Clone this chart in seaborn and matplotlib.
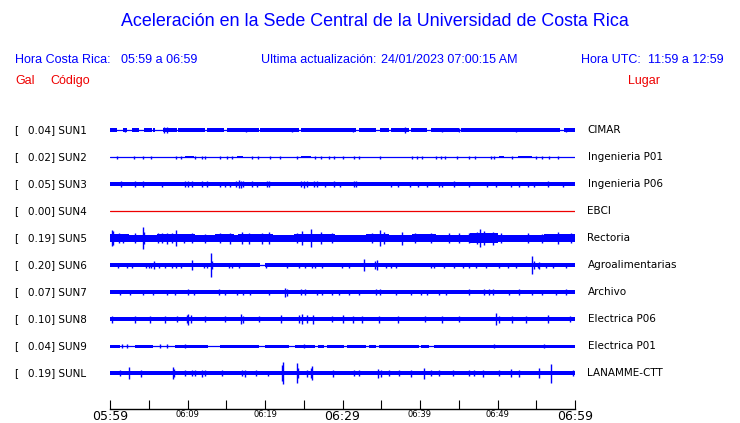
# ================================
# Aceleracion - Sede Central UCR (sismogramas)
# ================================

import numpy as np
import pandas as pd
import matplotlib
matplotlib.use("Agg")
import matplotlib.pyplot as plt
import seaborn as sns

# --------------------------------
# Data
# --------------------------------
codes = ["SUN1", "SUN2", "SUN3", "SUN4", "SUN5",
         "SUN6", "SUN7", "SUN8", "SUN9", "SUNL"]
pga_gal = [0.04, 0.02, 0.05, 0.00, 0.19, 0.20, 0.07, 0.10, 0.04, 0.19]
places = ["CIMAR", "Ingenieria P01", "Ingenieria P06", "EBCI", "Rectoria",
          "Agroalimentarias", "Archivo", "Electrica P06", "Electrica P01",
          "LANAMME-CTT"]

tick_minutes = [0, 5, 10, 15, 20, 25, 30, 35, 40, 45, 50, 55, 60]
tick_labels = ["05:59", "", "06:09", "", "06:19", "", "06:29",
               "", "06:39", "", "06:49", "", "06:59"]

# band segments: (start minute, end minute, half amplitude)
sun1_bands = [(0, 0.9, 1.7), (1.7, 2.2, 1.7), (2.8, 3.7, 1.7), (4.4, 5.4, 1.7),
              (5.5, 5.8, 1.7), (6.9, 8.6, 1.7), (8.8, 12.3, 1.7), (12.5, 14.7, 1.7),
              (15.1, 19.2, 1.7), (19.4, 24.4, 1.7), (24.6, 31.7, 1.7),
              (32.1, 34.3, 1.7), (34.9, 36.0, 1.7), (36.3, 38.6, 1.7),
              (38.8, 40.9, 1.7), (41.4, 45.0, 1.7), (45.3, 58.0, 1.7), (58.6, 60, 1.7)]
sun2_bands = [(9.7, 10.8, 1.3), (16.4, 17.2, 1.3), (24.6, 25.9, 1.3),
              (50.2, 50.9, 1.3), (52.6, 54.5, 1.3)]
sun3_bands = [(0, 60, 2.0)]
sun4_bands = []
sun5_bands = [(0, 60, 3.5), (0, 2.5, 4.2), (6, 11, 4.2), (13.5, 16, 4.0),
              (16.5, 21, 4.2), (23.8, 29, 4.2), (33, 36, 4.2), (39, 42, 3.9),
              (46.5, 50, 4.6), (56, 60, 4.0)]
sun6_bands = [(0, 19.4, 2.0), (20.0, 60, 2.0)]
sun7_bands = [(0, 60, 2.0)]
sun8_bands = [(0, 60, 2.4)]
sun9_bands = [(0, 1.3, 1.5), (3.2, 5.6, 1.5), (8.4, 12.7, 1.5), (14.2, 19.2, 1.5),
              (20.0, 23.1, 1.5), (23.9, 26.5, 1.5), (26.9, 27.6, 1.5),
              (28.0, 30.2, 1.5), (30.6, 33.0, 1.5), (33.4, 34.3, 1.5),
              (34.7, 39.9, 1.5), (40.1, 41.2, 1.5), (41.8, 60, 1.5)]
sunl_bands = [(0, 60, 2.2)]

# spikes: (minute, half amplitude)
sun1_spikes = [(1.9, 2.4), (7.0, 2.7), (7.3, 2.7), (17.5, 2.2), (23.5, 2.2),
               (31.3, 2.2), (38.1, 2.7), (42.9, 2.2), (45.0, 2.2), (52.4, 2.2),
               (58.8, 2.0)]
sun2_spikes = [(0.95, 1.5), (3.1, 1.5), (4.2, 1.5), (5.3, 1.5), (8.5, 1.5),
               (9.2, 1.5), (11.0, 1.5), (11.9, 1.5), (12.3, 1.5), (14.2, 1.5),
               (15.1, 1.5), (15.7, 1.5), (18.3, 1.5), (19.1, 1.5), (20.7, 1.5),
               (21.9, 1.5), (24.1, 1.5), (26.4, 1.5), (27.2, 1.5), (28.2, 1.5),
               (28.9, 1.5), (30.0, 1.5), (31.5, 1.5), (32.1, 1.5), (34.8, 1.5),
               (39.0, 1.5), (39.6, 1.5), (40.3, 1.5), (42.0, 1.5), (42.7, 1.5),
               (43.2, 1.5), (44.8, 1.5), (46.3, 1.5), (47.1, 1.5), (49.1, 1.5),
               (49.6, 1.5), (51.9, 1.5), (55.0, 1.5), (55.8, 1.5), (56.7, 1.5),
               (57.8, 1.5)]
sun3_spikes = [(1.4, 2.8), (3.2, 3.0), (4.2, 2.8), (6.7, 2.5), (9.7, 3.0),
               (10.1, 3.0), (10.6, 3.0), (11.9, 2.8), (12.5, 2.8), (14.2, 2.5),
               (14.8, 2.5), (15.5, 2.5), (16.2, 2.8), (16.6, 4.0), (16.9, 3.5),
               (17.2, 3.0), (18.3, 2.8), (19.0, 2.5), (20.3, 2.8), (20.5, 2.8),
               (24.6, 3.0), (25.0, 3.5), (25.4, 3.0), (26.3, 2.8), (26.7, 2.8),
               (27.8, 2.5), (28.9, 2.8), (29.7, 2.5), (31.5, 2.8), (31.7, 2.8),
               (36.2, 2.5), (37.1, 2.5), (38.7, 2.5), (39.7, 2.5), (40.9, 2.5),
               (42.5, 2.5), (42.9, 2.5), (44.4, 2.8), (46.3, 2.5), (48.7, 2.5),
               (49.8, 2.5), (51.7, 2.5), (52.8, 2.5), (53.9, 2.5), (54.7, 2.5),
               (56.5, 2.8), (58.4, 2.5)]
sun4_spikes = []
sun5_spikes = [(0.2, 8.0), (0.4, 7.0), (1.1, 5.0), (1.7, 4.5), (3.2, 5.0),
               (4.2, 11.0), (4.4, 6.0), (6.25, 5.0), (6.7, 5.0), (7.3, 5.5),
               (8.0, 5.0), (8.5, 8.0), (9.5, 4.5), (10.6, 5.0), (12.3, 4.5),
               (14.2, 5.0), (15.5, 5.5), (17.0, 6.0), (17.9, 5.5), (19.6, 5.5),
               (20.5, 6.0), (24.1, 5.0), (24.8, 7.0), (25.9, 9.0), (27.2, 6.0),
               (28.7, 5.0), (33.8, 5.0), (34.8, 8.0), (35.3, 6.0), (37.7, 6.5),
               (39.4, 5.0), (41.4, 5.0), (43.8, 5.0), (45.0, 5.0), (46.3, 5.0),
               (47.4, 6.0), (47.7, 9.0), (48.3, 7.0), (49.4, 6.5), (50.4, 5.0),
               (53.9, 5.0), (55.8, 4.5), (57.8, 6.0), (59.5, 5.0)]
sun6_spikes = [(13.0, 12.0), (54.4, 9.0), (32.8, 6.0), (34.4, 5.0), (34.2, 4.0),
               (10.6, 5.0), (5.7, 4.0), (1.0, 2.5), (2.2, 2.5), (2.9, 2.5),
               (4.6, 2.5), (5.0, 2.5), (5.3, 2.5), (6.3, 2.5), (7.1, 2.5),
               (8.0, 2.5), (8.5, 2.5), (9.2, 2.5), (12.1, 2.5), (12.5, 2.5),
               (13.1, 4.0), (15.3, 2.5), (15.7, 2.5), (16.6, 2.5), (20.1, 2.5),
               (22.8, 2.5), (24.4, 2.5), (25.2, 2.5), (26.1, 2.5), (26.5, 2.5),
               (27.3, 2.5), (29.9, 2.5), (30.8, 2.5), (35.6, 2.5), (36.2, 2.5),
               (36.9, 2.5), (41.4, 2.5), (41.8, 2.5), (43.1, 2.5), (44.4, 2.5),
               (45.5, 2.5), (46.3, 2.5), (47.2, 2.5), (48.5, 2.5), (50.2, 2.5),
               (51.3, 2.5), (52.4, 2.5), (54.7, 4.0), (55.2, 2.5), (55.4, 3.5),
               (56.3, 2.5), (57.1, 2.5), (58.8, 2.5)]
sun7_spikes = [(1.3, 2.5), (2.6, 2.5), (4.3, 2.5), (5.6, 2.5), (7.3, 2.5),
               (8.4, 2.5), (10.1, 3.0), (10.8, 2.5), (14.0, 3.0), (14.9, 2.5),
               (16.4, 2.5), (17.2, 2.5), (18.1, 2.5), (20.5, 2.5), (22.6, 4.5),
               (22.8, 3.5), (24.6, 3.0), (25.1, 3.0), (26.7, 2.5), (27.4, 2.5),
               (28.7, 2.5), (29.5, 2.5), (30.8, 2.5), (32.1, 2.5), (34.3, 3.0),
               (34.9, 3.0), (36.9, 2.5), (38.8, 2.5), (40.1, 2.5), (40.9, 2.5),
               (42.5, 2.5), (43.3, 2.5), (46.3, 3.0), (48.3, 3.0), (48.9, 3.0),
               (49.4, 3.0), (51.5, 2.5), (52.8, 3.0), (54.5, 2.5), (55.8, 2.5),
               (57.5, 2.5), (58.8, 3.0)]
sun8_spikes = [(0.2, 3.5), (3.2, 3.5), (5.2, 3.5), (7.1, 3.5), (8.6, 3.0),
               (9.9, 4.0), (10.1, 5.5), (10.5, 4.0), (12.3, 3.0), (14.9, 3.0),
               (16.9, 5.0), (17.2, 3.5), (19.2, 3.0), (22.0, 4.0), (24.4, 4.0),
               (24.8, 5.0), (25.4, 4.0), (26.2, 4.5), (28.7, 3.0), (30.0, 4.0),
               (31.3, 3.5), (32.5, 3.5), (34.7, 3.5), (37.1, 3.5), (40.7, 3.0),
               (42.9, 3.5), (45.0, 3.0), (49.8, 6.0), (50.2, 3.5), (51.9, 3.5),
               (53.7, 3.5), (56.5, 4.0), (59.3, 3.0)]
sun9_spikes = [(1.5, 2.0), (2.2, 2.0), (6.5, 2.0), (7.3, 2.0), (9.7, 2.0),
               (25.0, 2.0), (49.6, 2.0), (56.0, 2.0)]
sunl_spikes = [(1.3, 3.0), (2.4, 6.0), (4.0, 3.5), (8.1, 6.0), (8.3, 4.0),
               (9.7, 3.0), (10.6, 3.0), (11.0, 3.0), (11.9, 3.5), (12.3, 3.0),
               (14.4, 3.0), (17.0, 3.0), (17.4, 3.5), (18.8, 3.0), (20.4, 2.5),
               (22.2, 8.0), (22.3, 11.0), (24.1, 10.0), (24.3, 5.0), (25.4, 3.5),
               (25.9, 5.0), (26.1, 7.0), (28.8, 3.5), (31.5, 3.0), (32.1, 3.0),
               (34.6, 4.5), (35.0, 3.5), (36.0, 3.0), (37.3, 3.0), (38.9, 3.5),
               (40.5, 5.5), (41.4, 3.0), (42.5, 3.0), (44.2, 3.0), (46.3, 3.0),
               (47.0, 3.0), (48.1, 3.5), (50.2, 3.0), (51.7, 4.0), (52.8, 3.5),
               (55.4, 5.0), (56.9, 9.5), (59.7, 3.0)]

bands = [sun1_bands, sun2_bands, sun3_bands, sun4_bands, sun5_bands,
         sun6_bands, sun7_bands, sun8_bands, sun9_bands, sunl_bands]
spikes = [sun1_spikes, sun2_spikes, sun3_spikes, sun4_spikes, sun5_spikes,
          sun6_spikes, sun7_spikes, sun8_spikes, sun9_spikes, sunl_spikes]

# --------------------------------
# Style
# --------------------------------
BLUE = "#0000ff"
RED = "#ee0000"
trace_colors = [RED if c == "SUN4" else BLUE for c in codes]

sns.set_style("white")
plt.rcParams["font.family"] = ["DejaVu Sans"]
plt.rcParams["text.color"] = "black"

W, H = 740, 423
ROW = 27          # pixels between traces
Y0 = 130          # pixel row of first trace


def fx(px):
    return px / W


def fy(py):
    return 1 - py / H


fig = plt.figure(figsize=(W / 100, H / 100), dpi=100)
ax = fig.add_axes([fx(110), fy(409), fx(575) - fx(110), fy(115) - fy(409)])

# --------------------------------
# Traces
# --------------------------------
offsets = [-ROW * i for i in range(len(codes))]

base = pd.DataFrame({
    "code": np.repeat(codes, 2),
    "minute": [0, 60] * len(codes),
    "level": np.repeat(offsets, 2),
})
sns.lineplot(data=base, x="minute", y="level", hue="code",
             palette=dict(zip(codes, trace_colors)), estimator=None,
             legend=False, linewidth=0.9, ax=ax)

for off, col, bnd, spk in zip(offsets, trace_colors, bands, spikes):
    for t0, t1, h in bnd:
        ax.fill_between([t0, t1], off - h, off + h, color=col, linewidth=0)
    if spk:
        t = [s[0] for s in spk]
        h = np.array([s[1] for s in spk])
        ax.vlines(t, off - h, off + h, color=col, linewidth=1.0)

ax.set_xlim(0, 60)
ax.set_ylim(-(len(codes) - 1) * ROW - 36, 15)
ax.set_yticks([])
ax.set_xlabel("")
ax.set_ylabel("")
for side in ["left", "top", "right"]:
    ax.spines[side].set_visible(False)
ax.spines["bottom"].set_color("black")
ax.spines["bottom"].set_linewidth(1.0)

ax.set_xticks(tick_minutes)
ax.set_xticklabels(tick_labels)
ax.tick_params(axis="x", bottom=True, direction="in", length=6.5, width=0.8,
               colors="black", pad=0.5)
for i, lab in enumerate(ax.get_xticklabels()):
    lab.set_fontsize(9 if tick_minutes[i] % 30 == 0 else 6)

# --------------------------------
# Station labels
# --------------------------------
for i, (code, g, place) in enumerate(zip(codes, pga_gal, places)):
    y = fy(Y0 + ROW * i)
    fig.text(fx(14), y, "[", fontsize=7.5, va="center")
    fig.text(fx(27.7), y, f"{g:.2f}] {code}", fontsize=7.5, va="center")
    fig.text(fx(587.5), y, place, fontsize=7.5, va="center")

# --------------------------------
# Header
# --------------------------------
hfont = ["Liberation Sans", "DejaVu Sans"]
fig.text(fx(375), fy(22), "Aceleración en la Sede Central de la Universidad de Costa Rica",
         fontsize=12.9, color=BLUE, ha="center", va="center", family=hfont)

fig.text(fx(15), fy(60), "Hora Costa Rica:", fontsize=9, color=BLUE, va="center", family=hfont)
fig.text(fx(121), fy(60), "05:59 a 06:59", fontsize=9, color=BLUE, va="center", family=hfont)
fig.text(fx(261), fy(60), "Ultima actualización:", fontsize=9, color=BLUE, va="center", family=hfont)
fig.text(fx(381), fy(60), "24/01/2023 07:00:15 AM", fontsize=9, color=BLUE, va="center", family=hfont)
fig.text(fx(581), fy(60), "Hora UTC:", fontsize=9, color=BLUE, va="center", family=hfont)
fig.text(fx(724), fy(60), "11:59 a 12:59", fontsize=9, color=BLUE, ha="right", va="center", family=hfont)

fig.text(fx(15), fy(81), "Gal", fontsize=9, color=RED, va="center", family=hfont)
fig.text(fx(50), fy(81), "Código", fontsize=9, color=RED, va="center", family=hfont)
fig.text(fx(628), fy(81), "Lugar", fontsize=9, color=RED, va="center", family=hfont)

fig.savefig("out.png", dpi=100)
